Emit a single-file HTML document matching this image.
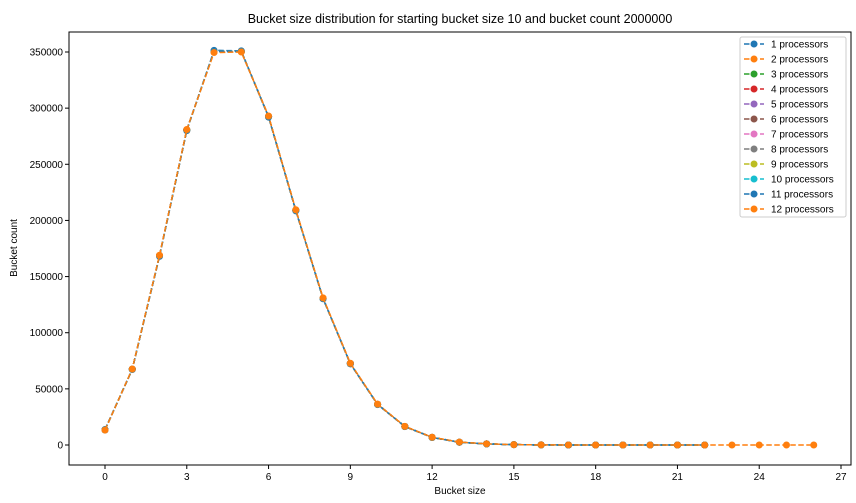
<!DOCTYPE html>
<html><head><meta charset="utf-8"><style>
body{margin:0;background:#fff;font-family:"Liberation Sans",sans-serif}
svg text{font-family:"Liberation Sans",sans-serif;fill:#000}
</style></head><body>
<svg id="c" width="856" height="498"></svg>
<script>
const categories=[0,1,2,3,4,5,6,7,8,9,10,11,12,13,14,15,16,17,18,19,20,21,22,23,24,25,26];
const seriesNames=["1 processors","2 processors","3 processors","4 processors","5 processors","6 processors","7 processors","8 processors","9 processors","10 processors","11 processors","12 processors"];
const baseValues=[13500,67500,168500,280500,350500,350500,292500,209000,130500,72500,36200,16500,6800,2500,1000,300,100,30,10,5,2,1,0];
const series1=[13800,67200,168000,280000,351500,351000,292000,208500,130200,72300,36000,16400,6700,2400,950,280,90,25,8,3,1,0,0];
const series12=[13300,67700,169000,281000,349500,350000,293000,209500,131000,72800,36400,16600,6900,2600,1050,320,110,35,12,6,2,1,0,0,0,0,0];
const xTicks=[0,3,6,9,12,15,18,21,24,27];
const yTicks=[0,50000,100000,150000,200000,250000,300000,350000];
const colors=["#1f77b4","#ff7f0e","#2ca02c","#d62728","#9467bd","#8c564b","#e377c2","#7f7f7f","#bcbd22","#17becf","#1f77b4","#ff7f0e"];
const L=69,R=851,T=32,B=465;
const x=v=>105+v*(841-105)/27;
const y=v=>445-v*(445-52)/350000;
const svg=document.getElementById('c');
const NS="http://www.w3.org/2000/svg";
function el(t,a,p){const e=document.createElementNS(NS,t);for(const k in a)e.setAttribute(k,a[k]);(p||svg).appendChild(e);return e;}
const title=el('text',{x:460,y:23,'text-anchor':'middle','font-size':12.5});title.textContent="Bucket size distribution for starting bucket size 10 and bucket count 2000000";

xTicks.forEach(t=>{el('line',{x1:x(t),x2:x(t),y1:B,y2:B+4,stroke:'#000'});const s=el('text',{x:x(t),y:B+15,'text-anchor':'middle','font-size':10});s.textContent=t;
});
yTicks.forEach(t=>{el('line',{x1:L-4,x2:L,y1:y(t),y2:y(t),stroke:'#000'});const s=el('text',{x:L-6,y:y(t)+3.5,'text-anchor':'end','font-size':10});s.textContent=t;
});
const xl=el('text',{x:460,y:494,'text-anchor':'middle','font-size':10});xl.textContent="Bucket size";

const yl=el('text',{x:17,y:248,'text-anchor':'middle','font-size':10,transform:'rotate(-90 17 248)'});yl.textContent="Bucket count";

const seriesData=seriesNames.map((n,i)=>i===0?series1:i===11?series12:baseValues);
seriesData.forEach((vals,i)=>{
 const g=el('g',{});
 
 
 const pts=vals.map((v,j)=>x(categories[j])+','+y(v)).join(' ');
 el('polyline',{points:pts,fill:'none',stroke:colors[i],'stroke-width':1.5,'stroke-dasharray':'5.5,2.5'},g);
 vals.forEach((v,j)=>{const c=el('circle',{cx:x(categories[j]),cy:y(v),r:3.5,fill:colors[i]},g);
  });
});
el('rect',{x:L,y:T,width:R-L,height:B-T,fill:'none',stroke:'#000','stroke-width':1});
const lg=el('g',{});
el('rect',{x:740,y:37,width:106,height:180,fill:'#fff',stroke:'#ccc',rx:2},lg);
seriesNames.forEach((n,i)=>{const yy=44+i*15;
 const e=el('g',{},lg);
 el('line',{x1:744,x2:764,y1:yy,y2:yy,stroke:colors[i],'stroke-width':1.5,'stroke-dasharray':'5.5,2.5'},e);
 el('circle',{cx:754,cy:yy,r:3.5,fill:colors[i]},e);
 const t=el('text',{x:771,y:yy+3.5,'font-size':10},e);t.textContent=n;});
</script>
</body></html>
